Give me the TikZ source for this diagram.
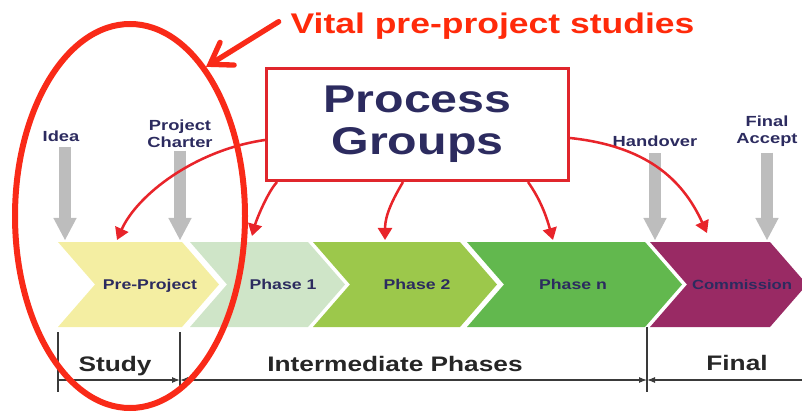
\documentclass[tikz,border=0pt]{standalone}
\usepackage{fontspec}
\newfontfamily\labfont[FakeStretch=1.25]{Liberation Sans}
\usetikzlibrary{arrows.meta,shapes.geometric,calc}
\definecolor{navy}{HTML}{2C2B5F}
\definecolor{boxred}{HTML}{E0262C}
\definecolor{arrred}{HTML}{E8242A}
\definecolor{ellred}{HTML}{F92A18}
\definecolor{txtred}{HTML}{FF2A0A}
\definecolor{greyar}{HTML}{BDBDBD}
\definecolor{dimgrey}{HTML}{3A3A3A}
\definecolor{cyellow}{HTML}{F4EEA2}
\definecolor{cpale}{HTML}{CFE5C8}
\definecolor{clime}{HTML}{9CC84B}
\definecolor{cgreen}{HTML}{62B84E}
\definecolor{cplum}{HTML}{992A64}
\newcommand\chevshape[3]{\fill[#3] (#1,242) -- (#2,242) -- ({#2+37},284.5) -- (#2,327) -- (#1,327) -- ({#1+37},284.5) -- cycle;}
\begin{document}
\begin{tikzpicture}[x=0.75pt,y=-0.75pt,
  chevlab/.style={anchor=base,inner sep=0pt,text=navy,font=\labfont\bfseries\fontsize{10.6pt}{12pt}\selectfont},
  toplab/.style={inner sep=0pt,text=navy,align=center,font=\labfont\bfseries\fontsize{11pt}{12.75pt}\selectfont},
  botlab/.style={anchor=base,inner sep=0pt,text=black!85,font=\labfont\bfseries\fontsize{15.75pt}{18pt}\selectfont},
  greyarrow/.style={draw=greyar,line width=9pt,-{Triangle[length=16.5pt,width=17.5pt,line width=0pt]}},
  procarrow/.style={draw=arrred,line width=1.9pt,-{Triangle[length=9pt,width=10.5pt]}},
  dimline/.style={draw=dimgrey,line width=0.8pt},
  dimtip/.tip={Latex[length=6pt,width=4.5pt]}]
\useasboundingbox (0,0) rectangle (802,413);
% chevrons
\chevshape{58}{182}{cyellow}
\chevshape{190}{308}{cpale}
\chevshape{313}{460}{clime}
\chevshape{467}{645}{cgreen}
\chevshape{650}{770}{cplum}
\node[chevlab] (pre) at (150,289.5) {Pre-Project};
\node[chevlab] (ph1) at (283,289.5) {Phase 1};
\node[chevlab] (ph2) at (417,289.5) {Phase 2};
\node[chevlab] (phn) at (573,289.5) {Phase n};
\node[chevlab,font=\labfont\bfseries\fontsize{10pt}{12pt}\selectfont] (com) at (742,289.5) {Commission};
% milestone labels and grey arrows
\node[toplab,anchor=base] (idea) at (61,142) {Idea};
\node[toplab] (charter) at (180,133.5) {Project\\Charter};
\node[toplab,anchor=base] (hand) at (655,147) {Handover};
\node[toplab] (accept) at (767,131) {Final\\Accept};
\coordinate (g1) at (65,240);
\coordinate (g2) at (180,240);
\coordinate (g3) at (655,240);
\coordinate (g4) at (767,240);
\draw[greyarrow] ($(g1 |- idea.south)+(0,5)$) -- (g1);
\draw[greyarrow] ($(g2 |- charter.south)+(0,3)$) -- (g2);
\draw[greyarrow] ($(g3 |- hand.south)+(0,6)$) -- (g3);
\draw[greyarrow] ($(g4 |- accept.south)+(0,6)$) -- (g4);
% process groups box
\node[draw=boxred,line width=2.25pt,fill=white,minimum width=226.5pt,minimum height=84pt,inner sep=0pt,
      align=center,text=navy,font=\labfont\bfseries\fontsize{29pt}{31.5pt}\selectfont] (box) at (417.5,124.5) {Process\\Groups};
\coordinate (t1) at (117,240);
\coordinate (t2) at (252,236);
\coordinate (t3) at (385,240);
\coordinate (t4) at (553,240);
\coordinate (t5) at (707,233);
\draw[procarrow] ($(box.west)+(0,15.5)$) .. controls +(-70,10) and +(20,-45) .. (t1);
\draw[procarrow] ($(box.south west)+(12,0)$) .. controls +(-10,11) and +(4,-15) .. (t2);
\draw[procarrow] ($(box.south)+(-14.5,0)$) .. controls +(-10,17) and +(0,-25) .. (t3);
\draw[procarrow] ($(box.south east)+(-42,0)$) .. controls +(12,17) and +(-7,-25) .. (t4);
\draw[procarrow] ($(box.east)+(0,13.5)$) .. controls +(75,8) and +(-25,-55) .. (t5);
% bottom dimension lines
\draw[dimline] (58,332) -- (58,392);
\draw[dimline] (180,332) -- (180,392);
\draw[dimline] (647,327) -- (647,392);
\coordinate (d0) at (58,380);
\coordinate (d1) at (180,380);
\coordinate (d2) at (647,380);
\coordinate (d3) at (802,380);
\draw[dimline,-dimtip] (d0) -- (d1);
\draw[dimline,dimtip-dimtip] (d1) -- (d2);
\draw[dimline,dimtip-] (d2) -- (d3);
\node[botlab] (study) at (115,371) {Study};
\node[botlab] (inter) at (395,371) {Intermediate Phases};
\node[botlab] (final) at (737,370) {Final};
% highlight ellipse and note
\node[draw=ellred,line width=4.5pt,ellipse,minimum width=172.5pt,minimum height=288pt,inner sep=0pt] (ell) at (130,216) {};
\node[anchor=base,inner sep=2pt,text=txtred,font=\labfont\bfseries\fontsize{21.3pt}{24pt}\selectfont] (vital) at (492.5,34) {Vital pre-project studies};
\draw[draw=ellred,line width=4pt,line cap=round,-{Straight Barb[length=15pt,width=20pt,line cap=round]}] ($(vital.west)+(-9,-5)$) -- (ell.63);
\end{tikzpicture}
\end{document}
